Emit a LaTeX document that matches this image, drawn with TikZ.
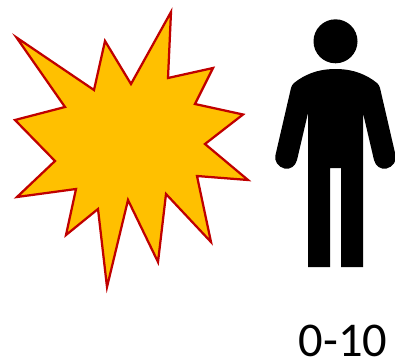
\documentclass[tikz,border=0pt]{standalone}
\usepackage{fontspec}
\setmainfont{Carlito}
\definecolor{burstfill}{RGB}{255,192,0}
\definecolor{burstline}{RGB}{192,0,0}
\tikzset{
  burst/.style={fill=burstfill,draw=burstline,line width=2.25pt,line join=miter,miter limit=10},
  figure/.style={fill=black,draw=none},
  caption/.style={font=\fontsize{48.5}{48.5}\selectfont,inner sep=0pt,anchor=base,text=black}
}
\begin{document}
\begin{tikzpicture}[x=1pt,y=-1pt]
\useasboundingbox (0,0) rectangle (395,361);
\path[burst] (16.5,37.5) -- (94,90) -- (105,41) -- (131,84) -- (171,12) -- (168,78) -- (213,68) -- (195,104) -- (243,114.5) -- (205,144) -- (248,180) -- (197,176) -- (211,242) -- (166,194) -- (158,262) -- (128,200) -- (107,287) -- (98,209) -- (66,235) -- (76,189) -- (17,197) -- (55,161) -- (15,120) -- (65,107) -- cycle;
\path[figure] (335.5,41.3) circle (22);
\path[figure] (308,267) -- (308,113) -- (297,160)
  .. controls (295.5,166) and (290,170) .. (284.5,168.5)
  .. controls (278,167) and (274,161) .. (275.5,155)
  -- (291,88)
  .. controls (292,84) and (295,82) .. (298,80)
  .. controls (310,72) and (322,69) .. (335.5,69)
  .. controls (349,69) and (361,72) .. (373,80)
  .. controls (376,82) and (379,84) .. (380,88)
  -- (395.5,155)
  .. controls (397,161) and (393,167) .. (386.5,168.5)
  .. controls (381,170) and (375.5,166) .. (374,160)
  -- (363,113) -- (363,267) -- (341,267) -- (341,168) -- (330,168) -- (330,267) -- cycle;
\node[caption] (label) at (343,356) {0-10};
\end{tikzpicture}
\end{document}
